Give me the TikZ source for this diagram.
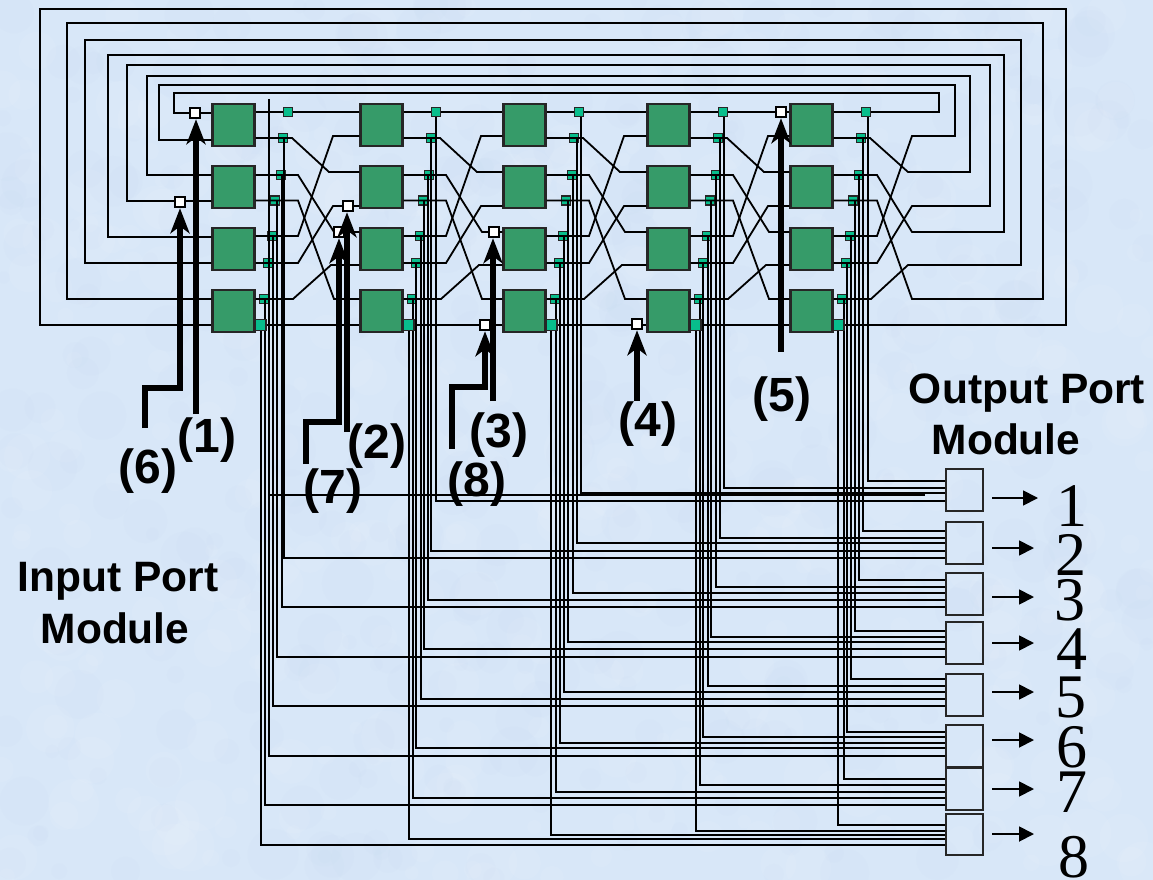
\documentclass[tikz,border=0pt]{standalone}
\usepackage{fontspec}
\setmainfont{Liberation Sans}
\newfontfamily\digitfont{Liberation Serif}
\usetikzlibrary{arrows.meta,calc}
\pgfdeclarelayer{front}
\pgfsetlayers{main,front}
\definecolor{paper}{RGB}{216,231,248}
\definecolor{paperdark}{RGB}{196,216,240}
\definecolor{swgreen}{RGB}{54,155,105}
\definecolor{tapgreen}{RGB}{8,190,140}
\tikzset{
  wire/.style={draw=black, line width=1.8pt},
  swbox/.style={draw=black!85, line width=2.2pt, fill=swgreen, minimum width=42pt, minimum height=42pt, inner sep=0pt},
  tap/.style={draw=black!85, line width=1.8pt, fill=tapgreen, minimum size=9pt, inner sep=0pt},
  bigtap/.style={tap, minimum size=11pt},
  inport/.style={draw=black, line width=2pt, fill=white, minimum size=10.5pt, inner sep=0pt},
  feed/.style={line width=5.5pt, black, -{Stealth[length=25pt,width=19pt,inset=7pt]}},
  outport/.style={draw=black!85, line width=2pt, minimum width=37pt, inner sep=0pt},
  outarrow/.style={line width=1.8pt, black, -{Triangle[length=15pt,width=15pt]}},
  boldlabel/.style={font=\fontsize{42.5}{44}\selectfont\bfseries, inner sep=0pt, anchor=base},
  numlabel/.style={font=\fontsize{48}{50}\selectfont\bfseries, inner sep=0pt},
  digitlabel/.style={font=\fontsize{62}{64}\selectfont\digitfont, inner sep=0pt}
}
\begin{document}
\begin{tikzpicture}[x=1pt,y=-1pt]
\useasboundingbox (0,0) rectangle (1153,880);
% mottled backdrop
\fill[paper] (0,0) rectangle (1153,880);
\pgfmathsetseed{11}
\foreach \i in {1,...,420}{
  \pgfmathsetmacro{\px}{rnd*1153}
  \pgfmathsetmacro{\py}{rnd*880}
  \pgfmathsetmacro{\pr}{6+rnd*20}
  \fill[white, opacity=0.06] (\px,\py) circle (\pr);
  \pgfmathsetmacro{\px}{rnd*1153}
  \pgfmathsetmacro{\py}{rnd*880}
  \fill[paperdark, opacity=0.08] (\px,\py) circle (\pr);
}
% switch boxes and taps
\foreach \c/\bx in {1/212,2/360,3/503,4/647,5/790}{
  \foreach \r/\yc in {1/125,2/187,3/249,4/311}
    \node[swbox] (sw\c\r) at (\bx+21.5,\yc) {};
  \foreach \k/\off/\oy in {2/28/138,3/26/175,4/20/200.5,5/17/236,6/13/263,7/9/299}
    \node[tap] (t\c\k) at (\bx+43+\off,\oy) {};
  \begin{pgfonlayer}{front}
    \node[tap] (t\c1) at (\bx+43+33,112) {};
    \node[bigtap] (t\c8) at (\bx+43+5.5,325) {};
  \end{pgfonlayer}
}
% input squares
\begin{pgfonlayer}{front}
  \node[inport] (w1) at (195,113) {};
  \node[inport] (w6) at (180,202) {};
  \node[inport] (w2) at (348,206) {};
  \node[inport] (w7) at (339,232) {};
  \node[inport] (w3) at (494,232) {};
  \node[inport] (w8) at (485,325) {};
  \node[inport] (w4) at (637,324) {};
  \node[inport] (w5) at (781,112) {};
\end{pgfonlayer}
% output port modules
\node[outport, minimum height=42pt] (p1) at (964,490) {};
\node[outport, minimum height=42pt] (p2) at (964,543) {};
\node[outport, minimum height=42pt] (p3) at (964,594) {};
\node[outport, minimum height=42pt] (p4) at (964,643) {};
\node[outport, minimum height=42pt] (p5) at (964,694.5) {};
\node[outport, minimum height=42pt] (p6) at (964,746) {};
\node[outport, minimum height=42pt] (p7) at (964,788.5) {};
\node[outport, minimum height=41pt] (p8) at (964,834.5) {};
% shuffle between stages
\foreach \c/\n/\bx in {1/2/212,2/3/360,3/4/503,4/5/647}{
  \draw[wire] (sw\c1.east |- t\c1) -- (sw\n1.west |- t\c1);
  \draw[wire] (sw\c4.east |- t\c8) -- (sw\n4.west |- t\c8);
  \foreach \k/\r/\e/\f/\iy/\ir in {2/1/37/74/172/2,3/2/43/79/232/3,4/2/43/79/299/4,5/3/43/78/136/1,6/3/43/78/206/2,7/4/38/76/265/3}
    \draw[wire] (sw\c\r.east |- t\c\k) -- (\bx+43+\e,0 |- t\c\k) -- (\bx+43+\f,\iy) -- (sw\n\ir.west |- 0,\iy);
}
% feedback round the outside
\draw[wire] (sw51.east |- t51) -- (939,112) -- (939,93) -- (174,93) -- (174,113) -- (sw11.west |- 0,113);
\draw[wire] (sw54.east |- t58) -- (1066,325) -- (1066,9) -- (40,9) -- (40,325) -- (sw14.west |- 0,325);
\foreach \k/\r/\e/\f/\iy/\rx/\ty/\lx/\jy/\ir in {2/1/37/75/172/970/76/147/175/2,3/2/44/79/232/1004/55/108/237/3,4/2/44/79/299/1043/23/67/299/4,5/3/44/79/136/955/85/159/140/1,6/3/44/79/206/990/65/127/201/2,7/4/38/75/265/1021/40/85/263/3}
  \draw[wire] (sw5\r.east |- t5\k) -- (833+\e,0 |- t5\k) -- (833+\f,\iy) -- (\rx,\iy) -- (\rx,\ty) -- (\lx,\ty) -- (\lx,\jy) -- (sw1\ir.west |- 0,\jy);
% taps down to the output modules
\coordinate (v11) at (269,99);
\coordinate (v12) at (925,495);
\draw[wire] (v11) |- (v12);
\foreach \c/\k/\vx/\ey in {
  1/2/284/558,1/3/282/607,1/4/277/657,1/5/273/706,1/6/269/756,1/7/265/805,1/8/261/845,
  2/1/436/501,2/2/431/551,2/3/428/600,2/4/424/649,2/5/421/699,2/6/416/748,2/7/413/798,2/8/409/839,
  3/1/581/493,3/2/577/543,3/3/573/593,3/4/568/642,3/5/564/692,3/6/560/743,3/7/556/792,3/8/551/835,
  4/1/724/488,4/2/720/538,4/3/716/587,4/4/711/637,4/5/708/686,4/6/703/737,4/7/700/785,4/8/696/831,
  5/1/868/481,5/2/863/531,5/3/859/580,5/4/855/631,5/5/851/679,5/6/847/732,5/7/844/779,5/8/838/825}
  \draw[wire] (\vx,0 |- t\c\k) |- (p\k.west |- 0,\ey);
% feed arrows
\begin{pgfonlayer}{front}
  \coordinate (a1) at (196,414);
  \coordinate (a2) at (347,432);
  \coordinate (a3) at (493,401);
  \coordinate (a4) at (637,401);
  \coordinate (a5) at (781,352);
  \coordinate (a6) at (145,428);
  \coordinate (a7) at (306,464);
  \coordinate (a8) at (452,449);
  \draw[feed] (a1) -- (a1 |- w1.south);
  \draw[feed] (a2) -- (a2 |- w2.south);
  \draw[feed] (a3) -- (a3 |- w3.south);
  \draw[feed] (a4) -- (a4 |- w4.south);
  \draw[feed] (a5) -- (a5 |- w5.south);
  \draw[feed] (a6) -- (145,388) -- (180,388) -- (w6.south);
  \draw[feed] (a7) -- (306,422) -- (339,422) -- (w7.south);
  \draw[feed] (a8) -- (452,387) -- (485,387) -- (w8.south);
\end{pgfonlayer}
% labels
\node[numlabel] (l1) at (207,440) {(1)};
\node[numlabel] (l2) at (377,446) {(2)};
\node[numlabel] (l3) at (499,435) {(3)};
\node[numlabel] (l4) at (648,424) {(4)};
\node[numlabel] (l5) at (782,399) {(5)};
\node[numlabel] (l6) at (148,471) {(6)};
\node[numlabel] (l7) at (333,491) {(7)};
\node[numlabel] (l8) at (477,484) {(8)};
\node[boldlabel] (in1) at (118,591) {Input Port};
\node[boldlabel] (in2) at (115,643) {Module};
\node[boldlabel] (out1) at (1027,403) {Output Port};
\node[boldlabel] (out2) at (1006,454) {Module};
% output numbers
\foreach \k/\dx/\dy/\ay/\tx in {1/1072/506/498/1038,2/1071/555/548/1034,3/1070/600/597/1034,4/1072/649/643/1034,5/1071/697/692/1034,6/1072/747/740/1034,7/1072/792/789/1034,8/1074/857/834/1034}{
  \node[digitlabel] (d\k) at (\dx,\dy) {\k};
  \coordinate (s\k) at (992,\ay);
  \draw[outarrow] (s\k) -- (\tx,\ay);
}
\end{tikzpicture}
\end{document}
